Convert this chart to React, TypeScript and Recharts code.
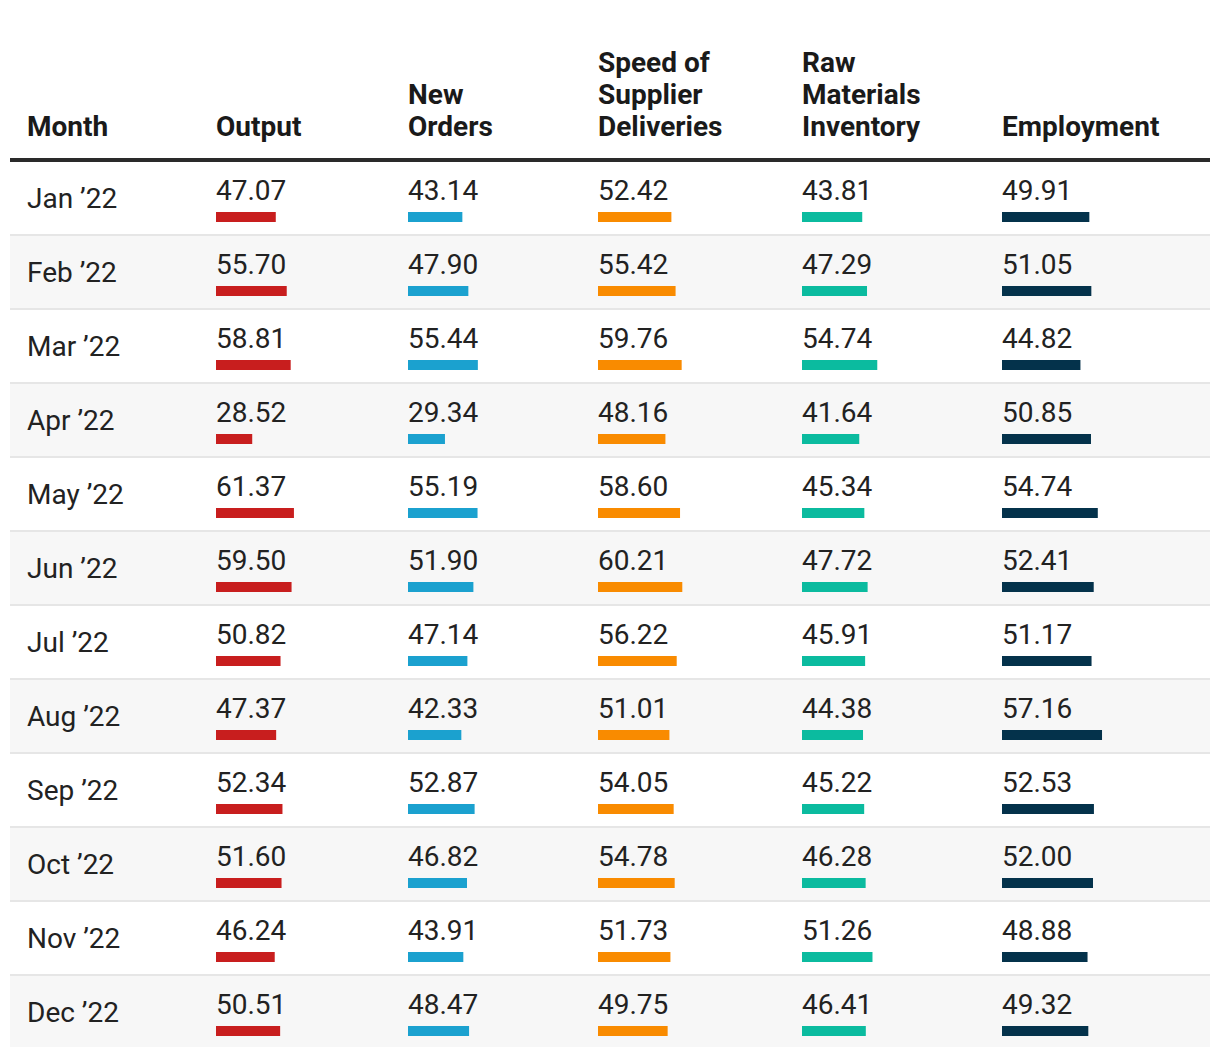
import React from "react";
import { BarChart, Bar, XAxis, YAxis, LabelList } from "recharts";

const months = ["Jan ’22", "Feb ’22", "Mar ’22", "Apr ’22", "May ’22", "Jun ’22", "Jul ’22", "Aug ’22", "Sep ’22", "Oct ’22", "Nov ’22", "Dec ’22"];
const output = [47.07, 55.70, 58.81, 28.52, 61.37, 59.50, 50.82, 47.37, 52.34, 51.60, 46.24, 50.51];
const newOrders = [43.14, 47.90, 55.44, 29.34, 55.19, 51.90, 47.14, 42.33, 52.87, 46.82, 43.91, 48.47];
const speedOfDeliveries = [52.42, 55.42, 59.76, 48.16, 58.60, 60.21, 56.22, 51.01, 54.05, 54.78, 51.73, 49.75];
const rawMaterials = [43.81, 47.29, 54.74, 41.64, 45.34, 47.72, 45.91, 44.38, 45.22, 46.28, 51.26, 46.41];
const employment = [49.91, 51.05, 44.82, 50.85, 54.74, 52.41, 51.17, 57.16, 52.53, 52.00, 48.88, 49.32];

const seriesKeys = ["output", "newOrders", "speed", "raw", "employment"];
const seriesValues = [output, newOrders, speedOfDeliveries, rawMaterials, employment];
const headerLines = [["Output"], ["New", "Orders"], ["Speed of", "Supplier", "Deliveries"], ["Raw", "Materials", "Inventory"], ["Employment"]];
const colors = ["#c81e1e", "#1ba1cf", "#f98b00", "#0bbb9f", "#04324b"];

const COL_LEFT = [216, 408, 598, 802, 1002];
const COL_WIDTH = [190, 188, 202, 198, 208];
const PX_PER_100 = [127, 126, 140, 137.5, 175];

const FONT = "Roboto, 'Noto Sans', sans-serif";
const FS = 28;
const ROW0 = 159.5;
const PITCH = 74.0;
const BAR_OFF = 52.2;
const TOP_PAD = 50;
const CHART_TOP = ROW0 + BAR_OFF - (PITCH / 2 - 5);
const CHART_H = PITCH * months.length;
const HEADER_BASE = 137;

const rows = months.map((m, i) => {
  const r: Record<string, any> = { month: m };
  seriesKeys.forEach((k, j) => {
    r[k] = seriesValues[j][i];
  });
  return r;
});

const renderLabel = (props: any) => {
  const x = props.x ?? props.viewBox?.x;
  const y = props.y ?? props.viewBox?.y;
  return (
    <text x={x} y={y - 12} fill="#222" fontSize={FS} fontFamily={FONT}>
      {Number(props.value).toFixed(2)}
    </text>
  );
};

export default function App() {
  return (
    <div
      style={{
        position: "absolute",
        left: 0,
        top: 0,
        width: 1220,
        height: 1058,
        overflow: "hidden",
        background: "#fff",
        fontFamily: FONT,
      }}
    >
      {months.map((m, i) => {
        const top = i === 0 ? 161 : ROW0 + PITCH * i + 2;
        const bottom = i === months.length - 1 ? 1047.3 : ROW0 + PITCH * (i + 1);
        return (
          <div
            key={"bg" + i}
            style={{
              position: "absolute",
              left: 10,
              width: 1200,
              top,
              height: bottom - top,
              background: i % 2 === 1 ? "#f7f7f7" : "#fff",
            }}
          />
        );
      })}
      {months.slice(1).map((m, i) => (
        <div
          key={"sep" + i}
          style={{
            position: "absolute",
            left: 10,
            width: 1200,
            top: ROW0 + PITCH * (i + 1),
            height: 2,
            background: "#e6e6e6",
          }}
        />
      ))}
      <div style={{ position: "absolute", left: 10, width: 1200, top: 158, height: 3.5, background: "#2a2a2a" }} />
      <div
        style={{
          position: "absolute",
          left: 27,
          top: HEADER_BASE - 25.6,
          lineHeight: "32px",
          fontSize: FS,
          fontWeight: 700,
          color: "#1a1a1a",
          whiteSpace: "nowrap",
        }}
      >
        Month
      </div>
      {headerLines.map((lines, k) => (
        <div
          key={"h" + k}
          style={{
            position: "absolute",
            left: COL_LEFT[k],
            top: HEADER_BASE - 25.6 - 32 * (lines.length - 1),
            lineHeight: "32px",
            fontSize: FS,
            fontWeight: 700,
            color: "#1a1a1a",
            whiteSpace: "nowrap",
          }}
        >
          {lines.map((l, j) => (
            <div key={j}>{l}</div>
          ))}
        </div>
      ))}
      {months.map((m, i) => (
        <div
          key={"m" + i}
          style={{
            position: "absolute",
            left: 27,
            top: ROW0 + PITCH * i + BAR_OFF - 3.3 - 25.6,
            lineHeight: "32px",
            fontSize: FS,
            color: "#222",
            whiteSpace: "nowrap",
          }}
        >
          {m}
        </div>
      ))}
      {seriesKeys.map((key, k) => (
        <div key={key} style={{ position: "absolute", left: COL_LEFT[k], top: CHART_TOP - TOP_PAD }}>
          <BarChart
            width={COL_WIDTH[k]}
            height={CHART_H + TOP_PAD}
            data={rows}
            layout="vertical"
            margin={{ top: TOP_PAD, right: COL_WIDTH[k] - PX_PER_100[k], bottom: 0, left: 0 }}
            barSize={10}
          >
            <XAxis type="number" domain={[0, 100]} hide />
            <YAxis type="category" dataKey="month" hide />
            <Bar dataKey={key} fill={colors[k]} isAnimationActive={false}>
              <LabelList dataKey={key} content={renderLabel} />
            </Bar>
          </BarChart>
        </div>
      ))}
    </div>
  );
}
